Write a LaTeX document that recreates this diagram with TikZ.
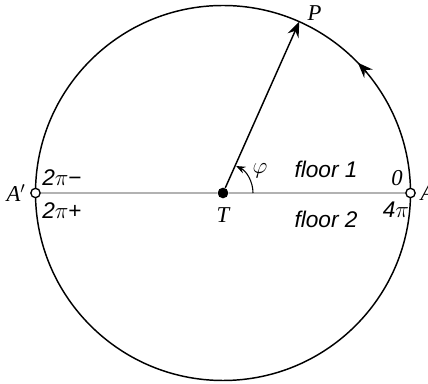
\documentclass[tikz,border=0pt]{standalone}
\usepackage{fontspec}
\setmainfont{Liberation Serif}
\setsansfont{Liberation Sans}
\usetikzlibrary{arrows.meta,positioning}

\begin{document}
\begin{tikzpicture}[
    x=0.75pt, y=0.75pt,
    font=\fontsize{17}{20}\selectfont,
    hole/.style={draw, circle, fill=white, inner sep=0pt, minimum size=7pt, line width=1pt},
    centre/.style={circle, fill=black, inner sep=0pt, minimum size=8pt},
    floorlabel/.style={font=\fontsize{17}{20}\selectfont\sffamily\itshape},
    axis/.style={draw=black!30, line width=0.8pt},
    >={Stealth[length=11.5pt,width=9pt,inset=4pt]}
]
\useasboundingbox (-223,-191) rectangle (205,193);
\draw[line width=1.1pt] (0,0) circle[radius=187.5];
\node[centre] (T) at (0,0) {};
\node[hole] (A) at (0:187.5) {};
\node[hole] (Ap) at (180:187.5) {};
\coordinate (P) at (66:187.5);
\draw[axis] (Ap) -- (T);
\draw[axis] (T) -- (A);
\draw[->, line width=1.1pt] (T) -- (P);
\draw[->, line width=1.1pt] (40:187.5) arc[start angle=40, end angle=44, radius=187.5];
\draw[-{Stealth[length=7pt,width=5.5pt,inset=2.5pt]}, line width=0.8pt] (0:30) arc[start angle=0, end angle=64, radius=30];
% labels
\node[anchor=south west, inner sep=1pt, xshift=5pt] (Plabel) at (P) {\itshape P};
\node[below=3pt of T] (Tlabel) {\itshape T};
\node at (37,22) (phi) {$\varphi$};
\node[left=0pt of Ap] (Aplabel) {\itshape A$'$};
\node[right=0pt of A] (Alabel) {\itshape A};
\node[floorlabel] (floor1) at (103,24) {floor 1};
\node[floorlabel] (floor2) at (103,-26) {floor 2};
\node (upper2pi) at (-161,15) {{\sffamily\itshape 2}$\pi${\sffamily −}};
\node (lower2pi) at (-161,-18) {{\sffamily\itshape 2}$\pi${\sffamily +}};
\node (zero) at (174,15) {\itshape 0};
\node (fourpi) at (173,-17) {{\sffamily\itshape 4}$\pi$};
\end{tikzpicture}
\end{document}
